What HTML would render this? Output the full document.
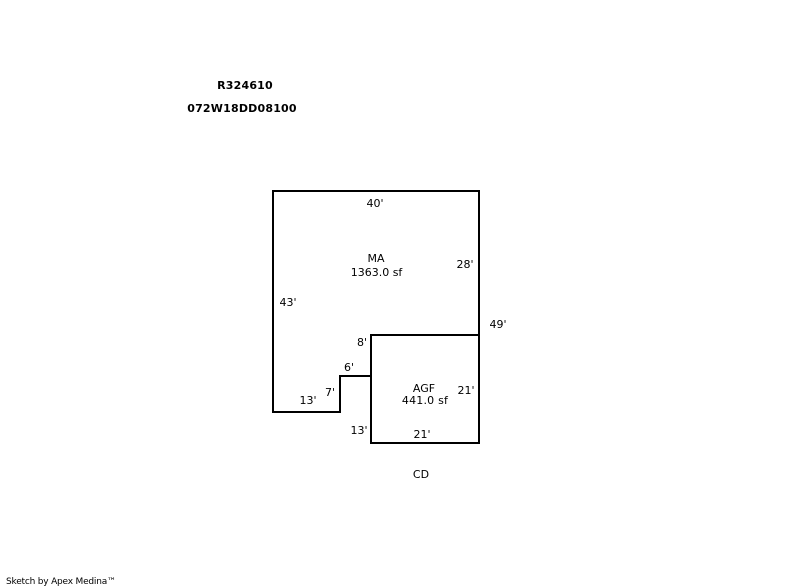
<!DOCTYPE html>
<html>
<head>
<meta charset="utf-8">
<style>
html,body{margin:0;padding:0;background:#fff;}
svg{display:block;}
text{font-family:"DejaVu Sans",sans-serif;font-size:11px;fill:#000;text-anchor:middle;}
.b{font-weight:bold;letter-spacing:.2px;}
.s{font-size:9px;text-anchor:start;letter-spacing:-.2px;}
</style>
</head>
<body>
<svg width="800" height="587" viewBox="0 0 800 587" xmlns="http://www.w3.org/2000/svg">
<g fill="none" stroke="#000" stroke-width="2" shape-rendering="crispEdges">
<path d="M273 191H479V443H371V376H340V412H273Z"/>
<path d="M371 376V335H479"/>
</g>
<text class="b" x="245" y="89">R324610</text>
<text class="b" x="242" y="112">072W18DD08100</text>
<text x="375" y="207">40'</text>
<text x="376" y="262">MA</text>
<text x="376.5" y="276">1363.0 sf</text>
<text x="465" y="268">28'</text>
<text x="288" y="306">43'</text>
<text x="498" y="328">49'</text>
<text x="362" y="346">8'</text>
<text x="349" y="371">6'</text>
<text x="330" y="396">7'</text>
<text x="308" y="404">13'</text>
<text x="359" y="434">13'</text>
<text x="424" y="392">AGF</text>
<text x="425" y="404" style="letter-spacing:.2px">441.0 sf</text>
<text x="466" y="394">21'</text>
<text x="422" y="438">21'</text>
<text x="421" y="478">CD</text>
<text class="s" x="6" y="584">Sketch by Apex Medina™</text>
</svg>
</body>
</html>
